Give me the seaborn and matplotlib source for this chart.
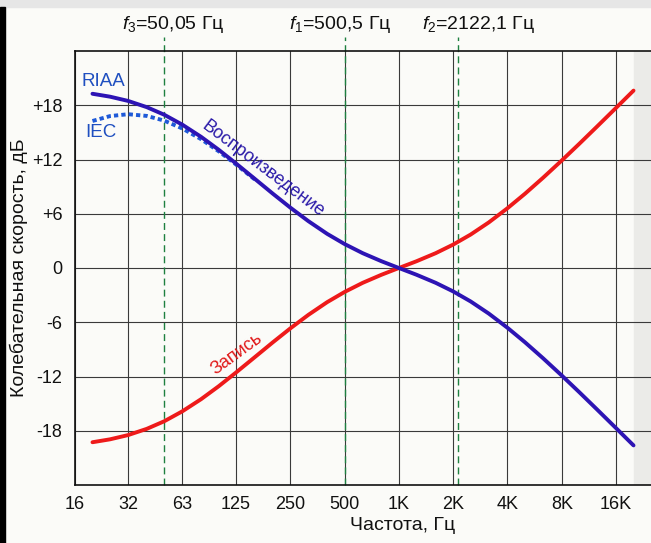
# RIAA / IEC equalization curves
import numpy as np
import pandas as pd
import matplotlib.pyplot as plt
import seaborn as sns
from matplotlib import font_manager
from matplotlib.patches import Rectangle

# Values (dB, normalized at 1 kHz).
freq = [20, 25, 31.5, 40, 50, 63, 80, 100, 125, 160, 200, 250, 315, 400, 500,
        630, 800, 1000, 1250, 1600, 2000, 2500, 3150, 4000, 5000, 6300, 8000,
        10000, 12500, 16000, 20000]
playback = [19.27, 18.95, 18.48, 17.79, 16.95, 15.85, 14.51, 13.09, 11.56, 9.81,
            8.22, 6.68, 5.18, 3.78, 2.65, 1.64, 0.75, 0.0, -0.74, -1.64, -2.59,
            -3.70, -5.04, -6.61, -8.21, -9.98, -11.89, -13.73, -15.61, -17.71, -19.62]
record = [-19.27, -18.95, -18.48, -17.79, -16.95, -15.85, -14.51, -13.09, -11.56, -9.81,
          -8.22, -6.68, -5.18, -3.78, -2.65, -1.64, -0.75, 0.0, 0.74, 1.64, 2.59,
          3.70, 5.04, 6.61, 8.21, 9.98, 11.89, 13.73, 15.61, 17.71, 19.62]
iec_freq = [20, 25, 31.5, 40, 50, 63, 80, 100, 125, 160]
iec = [16.26, 16.80, 17.01, 16.82, 16.30, 15.43, 14.25, 12.92, 11.45, 9.74]

xticks = [16, 31.5, 63, 125, 250, 500, 1000, 2000, 4000, 8000, 16000]
xlabels = ["16", "32", "63", "125", "250", "500", "1K", "2K", "4K", "8K", "16K"]
yticks = [-18, -12, -6, 0, 6, 12, 18]
ylabels = ["-18", "-12", "-6", "0", "+6", "+12", "+18"]
corner_freqs = [50.05, 500.5, 2122.1]
corner_labels = [r"$\mathit{f}_{3}$=50,05 Гц", r"$\mathit{f}_{1}$=500,5 Гц",
                 r"$\mathit{f}_{2}$=2122,1 Гц"]

df = pd.DataFrame({"freq": freq, "Воспроизведение": playback, "Запись": record})

sns.set_theme(style="white")
try:
    font_manager.findfont("Liberation Sans Narrow", fallback_to_default=False)
    fam = "Liberation Sans Narrow"
except Exception:
    fam = "Liberation Sans"
plt.rcParams["font.family"] = [fam, "DejaVu Sans"]
plt.rcParams["mathtext.fontset"] = "custom"
plt.rcParams["mathtext.rm"] = fam
plt.rcParams["mathtext.it"] = fam + ":italic"

fig = plt.figure(figsize=(6.51, 5.43), dpi=100)
fig.patch.set_facecolor("#fbfbf8")
ax = fig.add_axes([75 / 651, 1 - 485 / 543, 1 - 75 / 651, (485 - 51) / 543])
ax.set_facecolor("#fbfbf8")

ax.set_xscale("log", base=2)
ax.set_xlim(16, 25000)
ax.set_ylim(-24, 24)
ax.axvspan(20000, 25000, color="#ebebe8", zorder=0)

ax.set_xticks(xticks)
ax.set_xticklabels(xlabels)
ax.minorticks_off()
ax.set_yticks(yticks)
ax.set_yticklabels(ylabels)
ax.tick_params(axis="both", length=0, labelsize=13, colors="#111111")
ax.tick_params(axis="x", pad=8)
ax.tick_params(axis="y", pad=9)
ax.grid(True, color="#3a3a3a", lw=0.8)
ax.set_axisbelow(True)
for s in ["left", "top", "bottom"]:
    ax.spines[s].set_color("#111111")
    ax.spines[s].set_linewidth(1.2)
ax.spines["right"].set_visible(False)

# corner frequencies
for f, lab, dx in zip(corner_freqs, corner_labels, [6.5, -3, 15]):
    ax.plot([f, f], [0, 1.032], transform=ax.get_xaxis_transform(), clip_on=False,
            color="#1e8040", lw=1.0, ls=(0, (5, 3)), zorder=1.5)
    ax.annotate(lab, xy=(f, 1.06), xycoords=("data", "axes fraction"),
                xytext=(dx, 0), textcoords="offset points", ha="center", va="center",
                fontsize=14, color="#111111", annotation_clip=False)

sns.lineplot(x=iec_freq, y=iec, ax=ax, color="#1f5ad8", lw=2.8,
             linestyle=(0, (1.1, 0.8)), zorder=3)
sns.lineplot(data=df, x="freq", y="Запись", ax=ax, color="#ee1a1a", lw=2.8, zorder=4)
sns.lineplot(data=df, x="freq", y="Воспроизведение", ax=ax, color="#2d14b4", lw=2.8, zorder=5)

ax.text(17.4, 20.6, "RIAA", color="#1f4fc0", fontsize=13.5, ha="left", va="center")
ax.text(18.2, 15.0, "IEC", color="#1f4fc0", fontsize=13.5, ha="left", va="center")
ax.text(176, 11.0, "Воспроизведение", color="#2a1aa8", fontsize=13,
        rotation=-37, ha="center", va="center", rotation_mode="anchor")
ax.text(126, -9.5, "Запись", color="#e01818", fontsize=13,
        rotation=36, ha="center", va="center", rotation_mode="anchor")

ax.set_xlabel("Частота, Гц", fontsize=14, color="#111111")
ax.xaxis.set_label_coords(0.569, -0.074)
ax.set_ylabel("Колебательная скорость, дБ", fontsize=14, color="#111111")
ax.yaxis.set_label_coords(-0.082, 0.5)

# screenshot frame
fig.patches.append(Rectangle((0, 1 - 7 / 543), 1, 7 / 543, transform=fig.transFigure,
                             color="#e6e6e6", zorder=10))
fig.patches.append(Rectangle((0, 0), 5 / 651, 1 - 7 / 543, transform=fig.transFigure,
                             color="#000000", zorder=10))

fig.savefig("out.png", dpi=100)
